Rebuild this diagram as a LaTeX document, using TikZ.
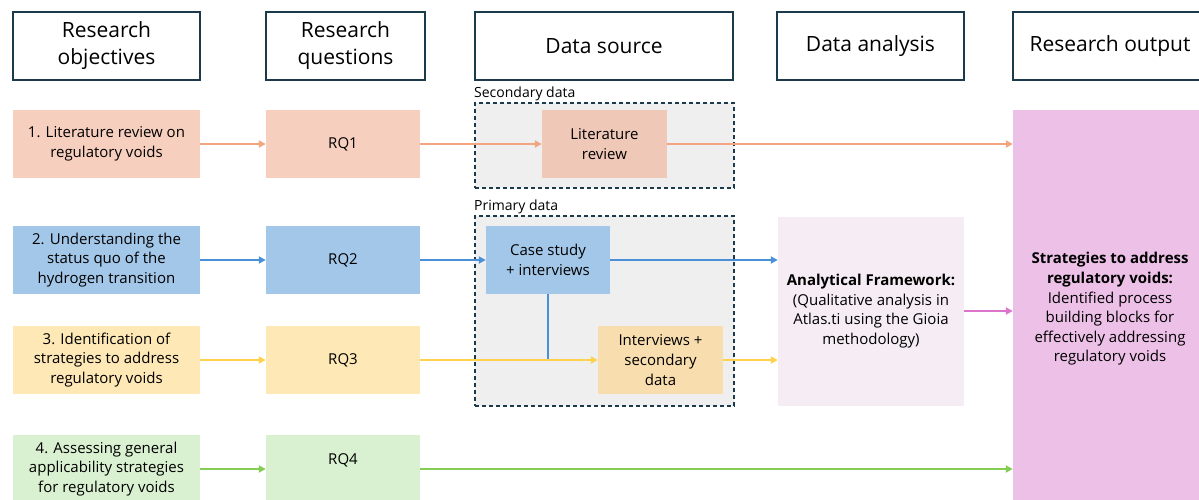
\documentclass[tikz,border=0pt]{standalone}
\usepackage{fontspec}
\setmainfont{Open Sans}
\usetikzlibrary{arrows.meta}
\definecolor{hdrline}{HTML}{1B3A4B}
\definecolor{salmonF}{HTML}{F6CFBF}
\definecolor{salmonD}{HTML}{EFC8B8}
\definecolor{salmonA}{HTML}{F3A57F}
\definecolor{blueF}{HTML}{A3C7E9}
\definecolor{blueA}{HTML}{4A90D9}
\definecolor{yelF}{HTML}{FDE8B6}
\definecolor{yelD}{HTML}{F8DDAE}
\definecolor{yelA}{HTML}{FFD24D}
\definecolor{greF}{HTML}{D9F1D0}
\definecolor{greA}{HTML}{84CC52}
\definecolor{pinkF}{HTML}{EDC0E7}
\definecolor{pinkA}{HTML}{DC74CC}
\definecolor{anaF}{HTML}{F5EDF3}
\definecolor{grayF}{HTML}{EFEFEF}
\tikzset{
  hdr/.style={draw=hdrline, line width=1.8pt, fill=white, align=center, inner sep=0pt,
    minimum height=68pt, font=\fontsize{21}{27}\selectfont},
  box/.style={align=center, inner sep=0pt, minimum height=68pt,
    font=\fontsize{15}{19.6}\selectfont},
  grp/.style={draw=hdrline, line width=1.6pt, dash pattern=on 4pt off 3pt, fill=grayF, inner sep=0pt},
  grplabel/.style={anchor=south west, inner sep=0pt, font=\fontsize{14}{16}\selectfont},
  conn/.style={line width=1.8pt, -{Triangle[length=7pt,width=7pt]}},
}
\begin{document}
\begin{tikzpicture}[x=1pt,y=-1pt]
\useasboundingbox (0,0) rectangle (1199,499);
\clip (0,0) rectangle (1199,499);
% headers
\node[hdr, minimum width=187pt] (h1) at (106.5,46) {Research\\objectives};
\node[hdr, minimum width=159pt] (h2) at (345.5,46) {Research\\questions};
\node[hdr, minimum width=258pt] (h3) at (604,46) {Data source};
\node[hdr, minimum width=187pt] (h4) at (870.5,46) {Data analysis};
\node[hdr, minimum width=194pt] (h5) at (1110,46) {Research output};
% groups
\node[grp, minimum width=259pt, minimum height=85pt] (sec) at (604.5,145.5) {};
\node[grplabel] (seclab) at (474,101) {Secondary data};
\node[grp, minimum width=259pt, minimum height=190pt] (prim) at (604.5,311) {};
\node[grplabel] (primlab) at (474,214) {Primary data};
% row 1
\node[box, fill=salmonF, minimum width=187pt] (o1) at (106.5,144) {1. Literature review on\\regulatory voids};
\node[box, fill=salmonF, minimum width=154pt] (q1) at (343,144) {RQ1};
\node[box, fill=salmonD, minimum width=125pt] (lit) at (604.5,144) {Literature\\review};
% row 2
\node[box, fill=blueF, minimum width=187pt] (o2) at (106.5,260) {2. Understanding the\\status quo of the\\hydrogen transition};
\node[box, fill=blueF, minimum width=154pt] (q2) at (343,260) {RQ2};
\node[box, fill=blueF, minimum width=124pt] (case) at (548,260) {Case study\\+ interviews};
% row 3
\node[box, fill=yelF, minimum width=187pt] (o3) at (106.5,360) {3. Identification of\\strategies to address\\regulatory voids};
\node[box, fill=yelF, minimum width=154pt] (q3) at (343,360) {RQ3};
\node[box, fill=yelD, minimum width=125pt] (int) at (660.5,360) {Interviews +\\secondary\\data};
% row 4
\node[box, fill=greF, minimum width=187pt] (o4) at (106.5,469) {4. Assessing general\\applicability strategies\\for regulatory voids};
\node[box, fill=greF, minimum width=154pt, text depth=20pt] (q4) at (343,469) {RQ4};
% analysis and output
\node[box, fill=anaF, minimum width=186pt, minimum height=189pt] (ana) at (871,311)
  {\textbf{Analytical Framework:}\\(Qualitative analysis in\\Atlas.ti using the Gioia\\methodology)};
\node[box, fill=pinkF, minimum width=194pt, minimum height=398pt] (out) at (1110,309)
  {\textbf{Strategies to address}\\\textbf{regulatory voids:}\\Identified process\\building blocks for\\effectively addressing\\regulatory voids};
% connectors
\draw[conn, salmonA] (o1) -- (q1);
\draw[conn, salmonA] (q1) -- (lit);
\draw[conn, salmonA] (lit) -- (out.west |- lit.east);
\draw[conn, blueA] (o2) -- (q2);
\draw[conn, blueA] (q2) -- (case);
\draw[conn, blueA] (case) -- (ana.west |- case.east);
\draw[line width=1.8pt, blueA] (case.south) -- (case.south |- int.west);
\draw[conn, yelA] (o3) -- (q3);
\draw[conn, yelA] (q3.east) -- (int.west);
\draw[conn, yelA] (int) -- (ana.west |- int.east);
\draw[conn, pinkA] (ana) -- (out.west |- ana.east);
\draw[conn, greA] (o4) -- (q4.west |- o4.east);
\draw[conn, greA] (q4.east |- o4.east) -- (out.west |- o4.east);
\end{tikzpicture}
\end{document}
